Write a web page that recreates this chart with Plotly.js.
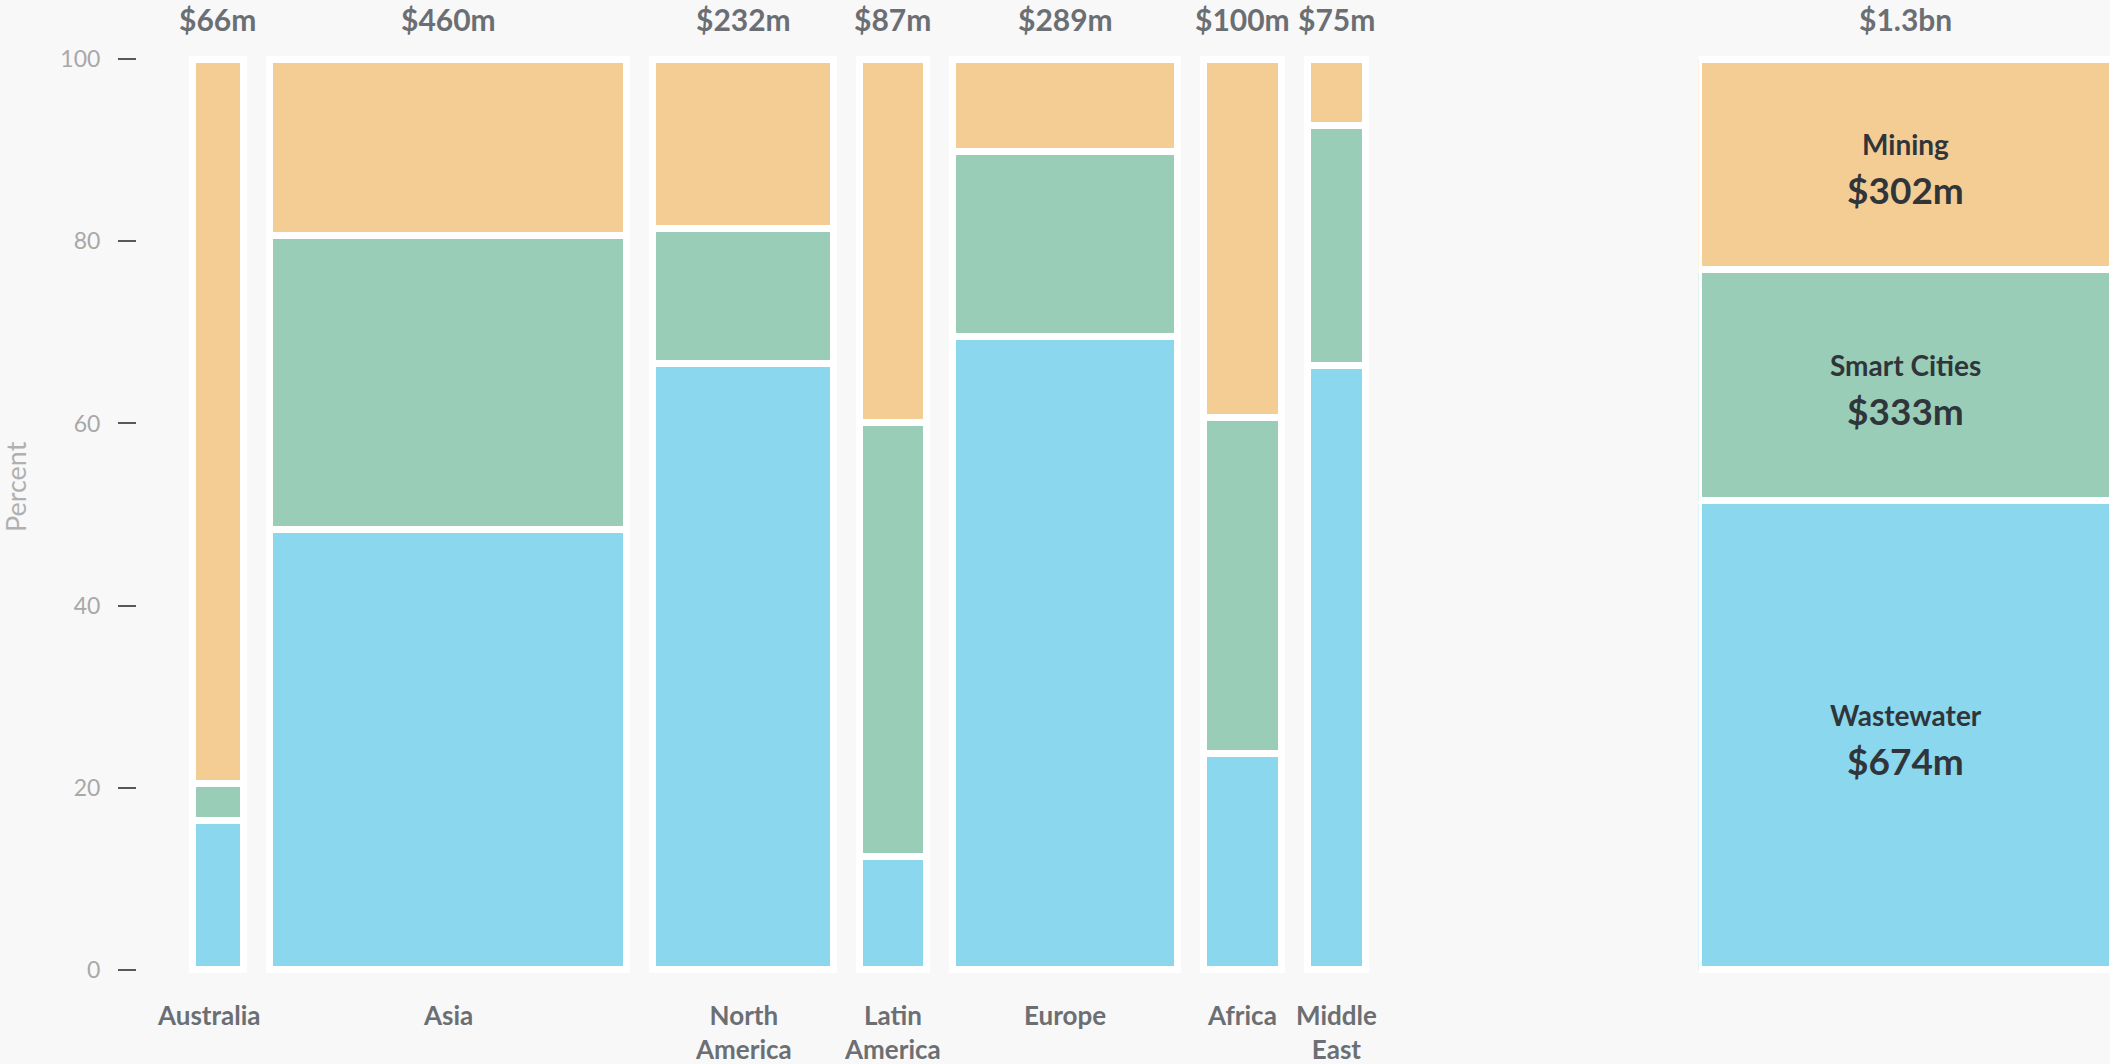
<!DOCTYPE html>
<html>
<head>
<meta charset="utf-8">
<script src="https://cdn.plot.ly/plotly-3.0.1.min.js"></script>
<style>
  html, body { margin: 0; padding: 0; background: #f8f8f8; }
  #chart { width: 2110px; height: 1064px; }
</style>
</head>
<body>
<div id="chart"></div>
<script>
// ---------- data ----------
const regions = ["Australia", "Asia", "North<br>America", "Latin<br>America", "Europe", "Africa", "Middle<br>East"];
const regionTotals = [66, 460, 232, 87, 289, 100, 75];            // $m, sets column widths
const regionTotalLabels = ["$66m", "$460m", "$232m", "$87m", "$289m", "$100m", "$75m"];
const wastewaterPct   = [16.4, 48.4, 66.6, 12.4, 69.5, 23.8, 66.4];
const smartCitiesPct  = [4.1, 32.2, 14.8, 47.7, 20.4, 36.9, 26.3];
const miningPct       = [79.5, 19.4, 18.6, 39.9, 10.1, 39.3, 7.3];
const sectors = ["Wastewater", "Smart Cities", "Mining"];
const sectorTotals = [674, 333, 302];                                // $m
const sectorTotalLabels = ["$674m", "$333m", "$302m"];
const grandTotalLabel = "$1.3bn";
const yTicks = [0, 20, 40, 60, 80, 100];

// ---------- styling ----------
const sectorColors = ["#8bd7ee", "#99cdb8", "#f4cd95"];
const FONT = "Lato, 'Source Sans Pro', sans-serif";
const GAP = 33.5;          // gap between columns, in x-axis units
const LINE_W = 7;

// ---------- layout computation from data ----------
const centers = [];
let cum = 0;
regionTotals.forEach((v, i) => { centers.push(cum + v / 2 + i * GAP); cum += v; });
const sectorPctBySeries = [wastewaterPct, smartCitiesPct, miningPct];
const grandTotal = sectorTotals.reduce((a, b) => a + b, 0);
const sectorShare = sectorTotals.map(v => v / grandTotal * 100);

const traces = [];
sectors.forEach((s, j) => {
  traces.push({
    type: "bar", name: s, x: centers, y: sectorPctBySeries[j], width: regionTotals,
    xaxis: "x", yaxis: "y",
    marker: { color: sectorColors[j], line: { color: "#ffffff", width: LINE_W } },
    hoverinfo: "skip", showlegend: false
  });
});
sectors.forEach((s, j) => {
  traces.push({
    type: "bar", name: s + " total", x: [0], y: [sectorShare[j]], width: [1],
    xaxis: "x2", yaxis: "y",
    marker: { color: sectorColors[j], line: { color: "#ffffff", width: LINE_W } },
    hoverinfo: "skip", showlegend: false
  });
});

const topFont = { family: FONT, size: 30, color: "#6b6f73", weight: 700 };
const annotations = [];
regions.forEach((r, i) => {
  annotations.push({
    x: centers[i], xref: "x", y: 1, yref: "paper", yanchor: "bottom", yshift: 3, borderpad: 0,
    text: regionTotalLabels[i], showarrow: false, font: topFont
  });
  annotations.push({
    x: centers[i], xref: "x", y: 0, yref: "paper", yanchor: "top", yshift: -9,
    xshift: i === 0 ? -9 : 0,
    text: r, showarrow: false,
    font: { family: FONT, size: 26, color: "#6b6f73", weight: 700 }
  });
});
annotations.push({
  x: 0, xref: "x2", y: 1, yref: "paper", yanchor: "bottom", yshift: 3, borderpad: 0,
  text: grandTotalLabel, showarrow: false, font: topFont
});
let acc = 0;
sectors.forEach((s, j) => {
  const mid = acc + sectorShare[j] / 2;
  acc += sectorShare[j];
  annotations.push({
    x: 0, xref: "x2", y: mid, yref: "y", yanchor: "middle", yshift: 20.5,
    text: s, showarrow: false,
    font: { family: FONT, size: 28, color: "#30353a", weight: 700 }
  });
  annotations.push({
    x: 0, xref: "x2", y: mid, yref: "y", yanchor: "middle", yshift: -25.5,
    text: sectorTotalLabels[j], showarrow: false,
    font: { family: FONT, size: 37, color: "#30353a", weight: 700 }
  });
});
annotations.push({
  x: -0.0618, xref: "paper", y: 0.529, yref: "paper", xanchor: "center", yanchor: "middle",
  text: "Percent", textangle: -90, showarrow: false,
  font: { family: FONT, size: 27, color: "#b0b0b0" }
});

const hiddenAxis = { showticklabels: false, showgrid: false, zeroline: false, showline: false, ticks: "", fixedrange: true };

const layout = {
  width: 2110, height: 1064,
  paper_bgcolor: "#f8f8f8", plot_bgcolor: "#f8f8f8",
  margin: { l: 137, r: 0, t: 41, b: 76, pad: 0 },
  barmode: "stack", bargap: 0, showlegend: false,
  font: { family: FONT },
  xaxis: Object.assign({ domain: [0, 0.66], range: [-71, 1605], anchor: "y" }, hiddenAxis),
  xaxis2: Object.assign({ domain: [0.7914, 1], range: [-0.5, 0.493], anchor: "y" }, hiddenAxis),
  yaxis: {
    range: [-2, 102], tickvals: yTicks, ticktext: yTicks.map(String),
    ticks: "outside", ticklen: 18, tickwidth: 2, tickcolor: "#55595d",
    tickfont: { family: FONT, size: 23, color: "#a8a8a8" },
    ticklabelstandoff: 13,
    showgrid: false, zeroline: false, showline: false, fixedrange: true, anchor: "x"
  },
  annotations: annotations
};

Plotly.newPlot("chart", traces, layout, { staticPlot: true, displayModeBar: false });
</script>
</body>
</html>
